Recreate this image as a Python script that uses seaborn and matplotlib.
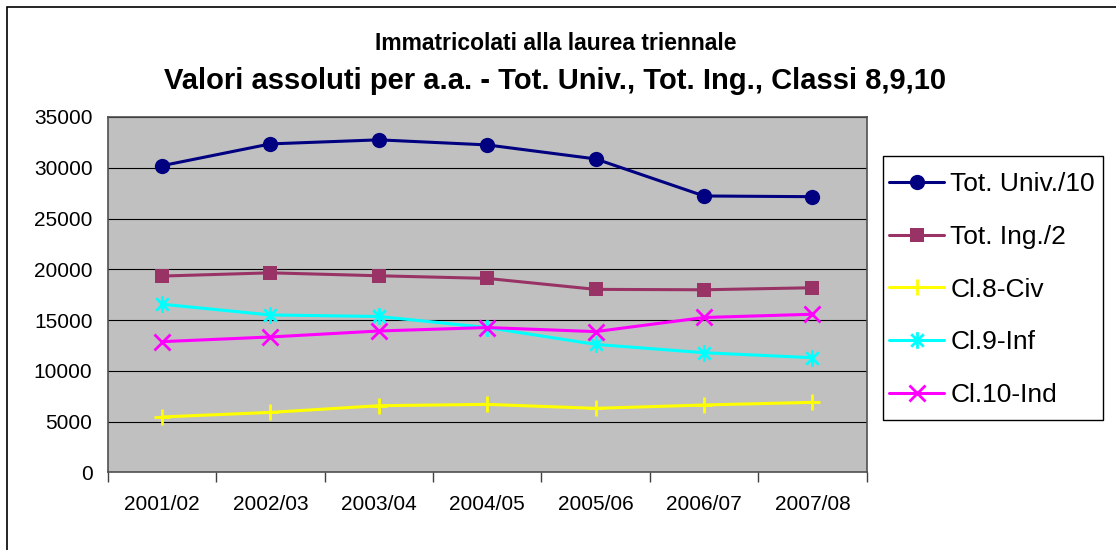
import pandas as pd
import numpy as np
import matplotlib.pyplot as plt
from matplotlib.patches import Rectangle
from matplotlib.path import Path
from matplotlib.ticker import FixedLocator
import seaborn as sns

# Data
years = ["2001/02", "2002/03", "2003/04", "2004/05", "2005/06", "2006/07", "2007/08"]
tot_univ = [30200, 32350, 32750, 32250, 30870, 27220, 27150]
tot_ing = [19330, 19650, 19360, 19100, 18020, 17980, 18180]
cl8_civ = [5450, 5900, 6560, 6690, 6300, 6630, 6890]
cl9_inf = [16560, 15500, 15350, 14260, 12600, 11780, 11290]
cl10_ind = [12870, 13330, 13920, 14260, 13860, 15250, 15570]

series_names = ["Tot. Univ./10", "Tot. Ing./2", "Cl.8-Civ", "Cl.9-Inf", "Cl.10-Ind"]

df = pd.DataFrame({
    "anno": years,
    "Tot. Univ./10": tot_univ,
    "Tot. Ing./2": tot_ing,
    "Cl.8-Civ": cl8_civ,
    "Cl.9-Inf": cl9_inf,
    "Cl.10-Ind": cl10_ind,
}).melt(id_vars="anno", var_name="serie", value_name="valore")

sns.set_style("white")
plt.rcParams['font.family'] = ['Liberation Sans', 'DejaVu Sans']
plt.rcParams['text.color'] = 'black'
plt.rcParams['xtick.labelcolor'] = 'black'
plt.rcParams['ytick.labelcolor'] = 'black'

# Excel-like asterisk marker: vertical bar plus an X
star = Path(
    [(0, -1), (0, 1), (-0.75, -0.75), (0.75, 0.75), (-0.75, 0.75), (0.75, -0.75)],
    [Path.MOVETO, Path.LINETO, Path.MOVETO, Path.LINETO, Path.MOVETO, Path.LINETO],
)

styles = {
    "Tot. Univ./10": dict(color="#000080", marker="o", markersize=11, markeredgewidth=0),
    "Tot. Ing./2": dict(color="#993366", marker="s", markersize=10.5, markeredgewidth=0),
    "Cl.8-Civ": dict(color="#FFFF00", marker="+", markersize=11, markeredgewidth=2),
    "Cl.9-Inf": dict(color="#00FFFF", marker=star, markersize=12, markeredgewidth=2,
                     markerfacecolor="none"),
    "Cl.10-Ind": dict(color="#FF00FF", marker="x", markersize=11, markeredgewidth=2),
}

W, H = 1116, 550
fig = plt.figure(figsize=(W / 100, H / 100), dpi=100)
ax = fig.add_axes([107.7 / W, 1 - 472.3 / H, (866.7 - 107.7) / W, (472.3 - 117) / H])
ax.set_facecolor("#C0C0C0")

for name in series_names:
    st = styles[name]
    sns.lineplot(data=df[df["serie"] == name], x="anno", y="valore", ax=ax,
                 linewidth=2.2, label=name, errorbar=None, sort=False,
                 markeredgecolor=st["color"], **st)

ax.set_xlim(-0.5, len(years) - 0.5)
ax.set_ylim(0, 35000)
ax.set_yticks(np.arange(0, 35001, 5000))
ax.set_yticklabels([str(v) for v in range(0, 35001, 5000)])
ax.set_xticks(range(len(years)))
ax.set_xticklabels(years)
ax.xaxis.set_minor_locator(FixedLocator(np.arange(-0.5, len(years), 1.0)))
ax.tick_params(axis="x", which="major", length=0, pad=16, labelsize=15)
ax.tick_params(axis="x", which="minor", length=7, width=1, color="#404040", direction="out", bottom=True)
ax.tick_params(axis="y", length=0, pad=11, labelsize=15)
ax.set_xlabel("")
ax.set_ylabel("")

ax.grid(True, axis="y", color="black", linewidth=0.8)
ax.set_axisbelow(True)
for side in ["left", "bottom", "right", "top"]:
    ax.spines[side].set_visible(True)
    ax.spines[side].set_color("#505050")
    ax.spines[side].set_linewidth(1.2)

# legend: frame drawn separately so the padding can differ per side
handles, labels = ax.get_legend_handles_labels()
ax.get_legend().remove()
fig.legend(handles, labels, loc="upper left",
           bbox_to_anchor=(889 / W, 1 - 172 / H), bbox_transform=fig.transFigure,
           frameon=False, fontsize=19, handlelength=2.1, handletextpad=0.22,
           borderpad=0, labelspacing=1.09, borderaxespad=0)
fig.add_artist(Rectangle((883 / W, 1 - 420 / H), 220 / W, 264 / H, transform=fig.transFigure,
                         fill=False, edgecolor="black", linewidth=1))

fig.text(0.498, 1 - 44 / H, "Immatricolati alla laurea triennale",
         ha="center", va="center", fontsize=16.5, fontweight="bold")
fig.text(0.497, 1 - 81 / H, "Valori assoluti per a.a. - Tot. Univ., Tot. Ing., Classi 8,9,10",
         ha="center", va="center", fontsize=21, fontweight="bold")

# outer chart-area border (runs off the right and bottom edges)
fig.add_artist(Rectangle((7 / W, -0.5), 2, 1.5 - 7 / H, transform=fig.transFigure,
                         fill=False, edgecolor="black", linewidth=1.2))

fig.savefig("out.png", dpi=100)
